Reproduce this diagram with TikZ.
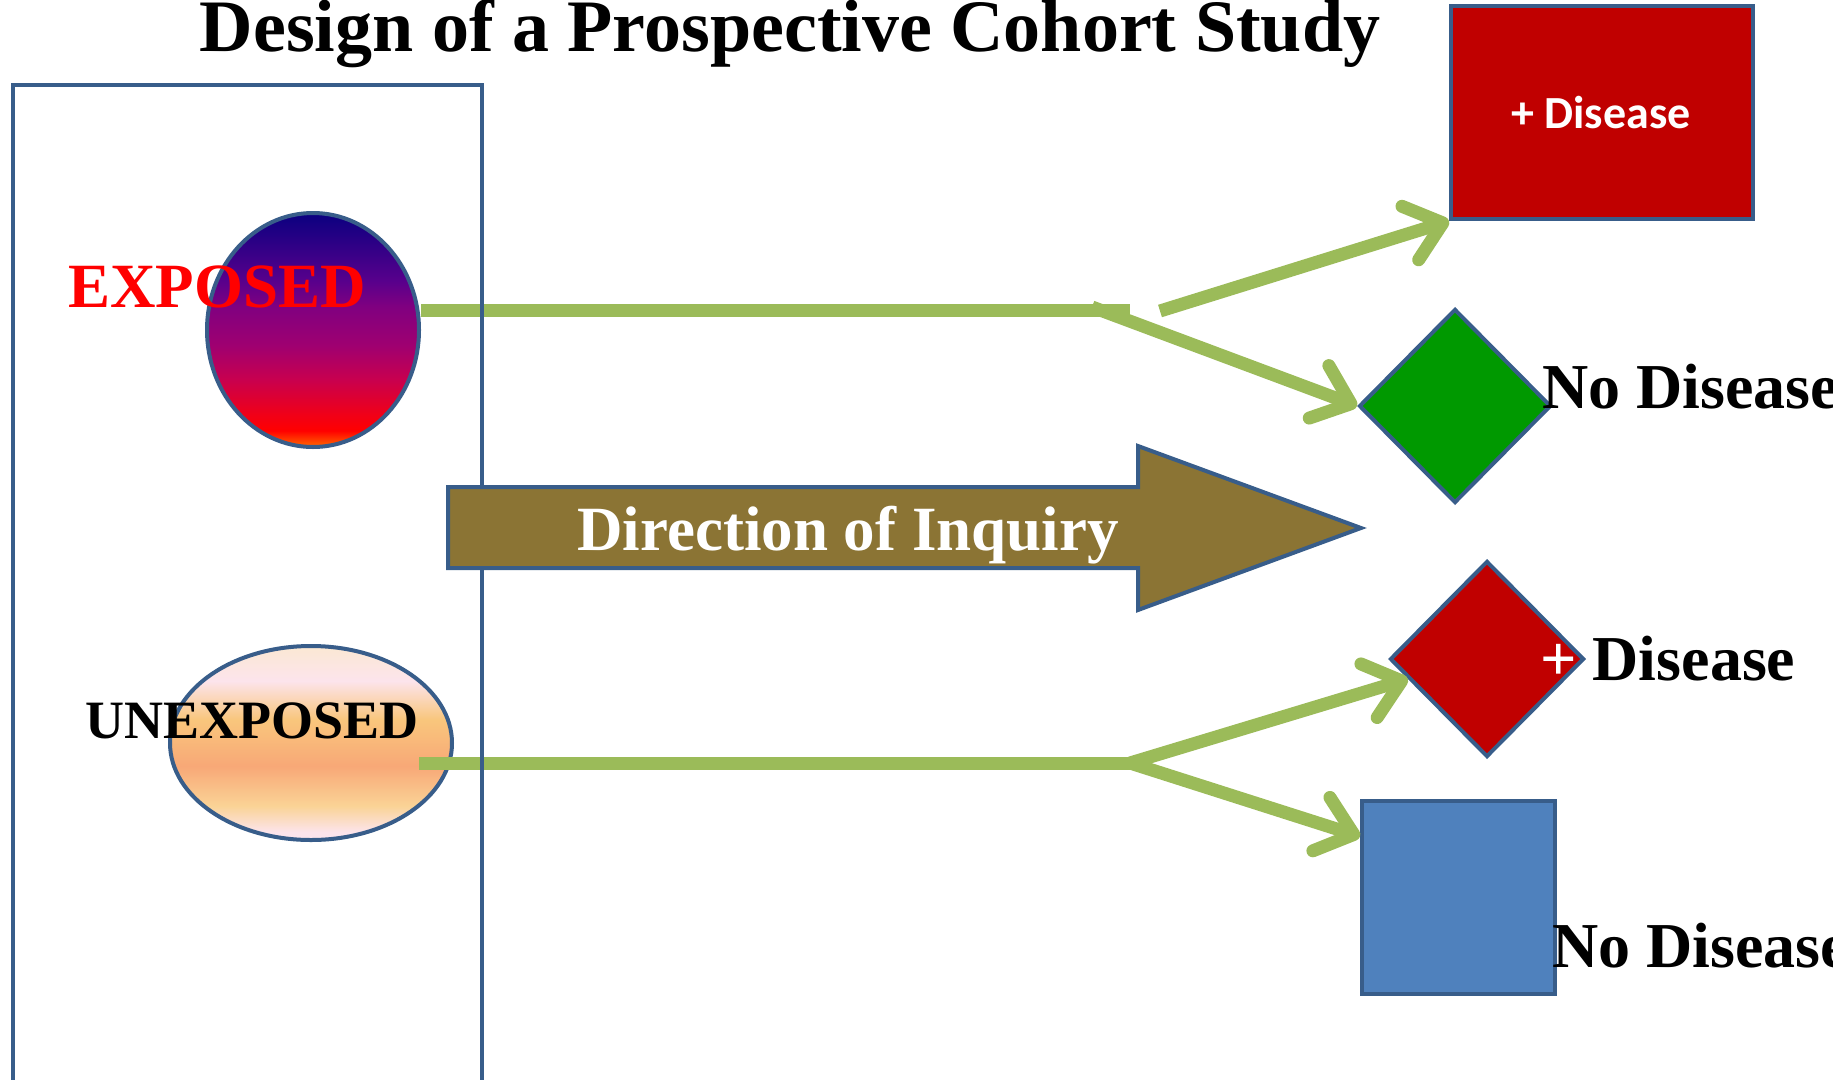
\documentclass[tikz,border=0pt]{standalone}
\usepackage{fontspec}
\usetikzlibrary{shapes.geometric,arrows.meta,calc}
\newfontfamily\tnr{Liberation Serif}
\newfontfamily\calib{Carlito}
\definecolor{bordc}{HTML}{385D8A}
\definecolor{lgreen}{HTML}{9BBB59}
\definecolor{olivec}{HTML}{8B7434}
\definecolor{dred}{HTML}{C00000}
\definecolor{dgreen}{HTML}{009900}
\definecolor{mblue}{HTML}{4F81BD}
\definecolor{ea}{HTML}{FF6A00}
\definecolor{eb}{HTML}{FF0000}
\definecolor{ec}{HTML}{F00018}
\definecolor{ed}{HTML}{C8004F}
\definecolor{ee}{HTML}{A00070}
\definecolor{ef}{HTML}{800080}
\definecolor{eg}{HTML}{58008C}
\definecolor{eh}{HTML}{0A0080}
\definecolor{ua}{HTML}{FCE4EC}
\definecolor{ub}{HTML}{FAD396}
\definecolor{uc}{HTML}{F8A877}
\definecolor{ud}{HTML}{F9C67C}
\definecolor{ue}{HTML}{FCE4EC}
\definecolor{uf}{HTML}{FBE8D3}
\pgfdeclareverticalshading{expshade}{100bp}{color(0bp)=(ea); color(25bp)=(ea); color(28.5bp)=(eb); color(32bp)=(ec); color(39.5bp)=(ed); color(46.5bp)=(ee); color(55bp)=(ef); color(60.5bp)=(eg); color(75bp)=(eh); color(100bp)=(eh)}
\pgfdeclareverticalshading{unexshade}{100bp}{color(0bp)=(ua); color(27bp)=(ua); color(33.75bp)=(ub); color(44bp)=(uc); color(56bp)=(ud); color(66bp)=(ue); color(75bp)=(uf); color(100bp)=(uf)}
\tikzset{
  bord/.style={draw=bordc, line width=4pt},
  conn/.style={draw=lgreen, line width=13pt},
  tipped/.style={-{Straight Barb[length=34pt,width=56pt,round]}},
  serifbold/.style={font=\tnr\bfseries\fontsize{#1pt}{#1pt}\selectfont, inner sep=0pt},
  lbl/.style={serifbold=#1, anchor=base west}
}
\begin{document}
\begin{tikzpicture}[x=1pt,y=-1pt]
\useasboundingbox (0,0) rectangle (1833,1079);

% title
\node[serifbold=74, anchor=base] (title) at (790,51) {Design of a Prospective Cohort Study};

% groups
\node[ellipse, bord, shade, shading=expshade, minimum width=212pt, minimum height=234pt, inner sep=0pt] (exp) at (313,330) {};
\node[ellipse, bord, shade, shading=unexshade, minimum width=282pt, minimum height=194pt, inner sep=0pt] (unexp) at (311,743) {};

% outcomes
\node[rectangle, bord, fill=dred, minimum width=302pt, minimum height=213pt, inner sep=0pt] (pd1) at (1602,112.5) {};
\node[font=\calib\bfseries\fontsize{46pt}{46pt}\selectfont, text=white, inner sep=0pt] (pd1t) at (1601,113) {+ Disease};
\node[diamond, bord, fill=dgreen, aspect=1, minimum width=192pt, minimum height=194pt, inner sep=0pt] (nd1) at (1455,406) {};
\node[diamond, bord, fill=dred, aspect=1, minimum width=194pt, minimum height=196pt, inner sep=0pt] (pd2) at (1487,659) {};
\node[rectangle, bord, fill=mblue, minimum width=193pt, minimum height=193pt, inner sep=0pt] (nd2) at (1458.5,897.5) {};

% connectors
\coordinate (j1) at (1130,310);
\coordinate (j1a) at (1092,307);
\coordinate (j1b) at (1160,311);
\coordinate (j2) at (1130,763);
\coordinate (s2) at (419,763);
\draw[conn] (exp.east |- j1) -- (j1);
\draw[conn, tipped] (j1a) -- (nd1.west);
\draw[conn, tipped] (j1b) -- (pd1.south west);
\draw[conn] (s2) -- (j2);
\draw[conn, tipped, line join=round] (j2) -- ($(pd2.west)!0.2!(pd2.south)$);
\draw[conn, tipped] (j2) -- ($(nd2.north west)!0.19!(nd2.south west)$);

% cohort box
\node[rectangle, bord, minimum width=469pt, minimum height=1020pt, anchor=north west, inner sep=0pt] (cohort) at (11,83) {};

% direction of inquiry
\draw[bord, fill=olivec] (448,487) -- (1138,487) -- (1138,446) -- (1361,528) -- (1138,610) -- (1138,568) -- (448,568) -- cycle;
\node[serifbold=63, text=white, anchor=base] (dir) at (848,550) {Direction of Inquiry};

% labels
\node[lbl=63, text=red] (expl) at (68,307) {EXPOSED};
\node[lbl=54] (unexpl) at (85,738) {UNEXPOSED};
\node[lbl=64] (nd1l) at (1542,408) {No Disease};
\node[lbl=64] (pd2l) at (1540,680) {{\color{white}+} Disease};
\node[lbl=64] (nd2l) at (1552,967) {No Disease};
\end{tikzpicture}
\end{document}
